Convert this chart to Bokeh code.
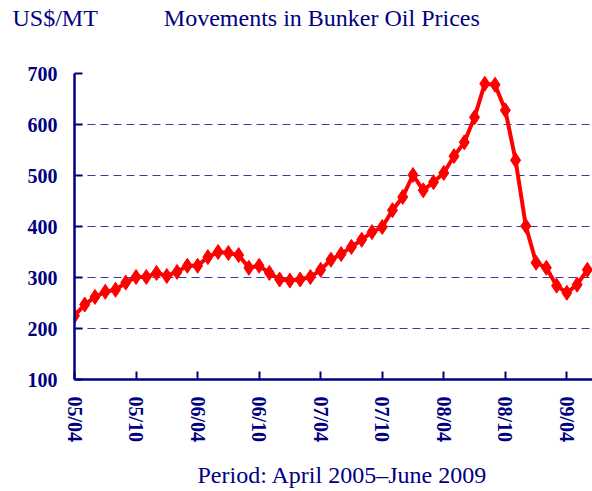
import math
from bokeh.plotting import figure
from bokeh.models import FixedTicker, Range1d, Title
from bokeh.embed import file_html
from bokeh.resources import INLINE

# Monthly bunker oil prices, April 2005 - June 2009 (US$/MT)
month_index = list(range(51))
prices = [225, 247, 262, 272, 276, 290, 301, 301, 309, 303,
          311, 323, 323, 340, 350, 348, 344, 319, 323, 309,
          296, 294, 296, 301, 315, 335, 346, 360, 374, 389,
          399, 432, 458, 501, 471, 487, 505, 538, 565, 614,
          680, 678, 628, 530, 401, 329, 319, 284, 270, 286, 315]
tick_positions = [0, 6, 12, 18, 24, 30, 36, 42, 48]
tick_labels = ["05/04", "05/10", "06/04", "06/10", "07/04",
               "07/10", "08/04", "08/10", "09/04"]
y_ticks = [100, 200, 300, 400, 500, 600, 700]
unit_text = "US$/MT"
title_text = "Movements in Bunker Oil Prices"
period_text = "Period: April 2005\u2013June 2009"

NAVY = "#000080"
FONT = "Liberation Serif"

p = figure(width=592, height=491, output_backend="svg", toolbar_location=None,
           x_range=Range1d(0, 50.5), y_range=Range1d(100, 700),
           min_border_left=74, min_border_right=0, min_border_top=73,
           min_border_bottom=111)
p.outline_line_color = None
p.background_fill_color = "white"
p.border_fill_color = "white"

# grid
p.xgrid.grid_line_color = None
p.ygrid.grid_line_color = "#3a3aa8"
p.ygrid.grid_line_dash = "8 5"
p.ygrid.grid_line_width = 1.2
p.ygrid.ticker = FixedTicker(ticks=[200, 300, 400, 500, 600, 700])

# axes
for ax in (p.xaxis[0], p.yaxis[0]):
    ax.axis_line_color = NAVY
    ax.axis_line_width = 2.5
    ax.major_tick_line_color = NAVY
    ax.major_tick_line_width = 2
    ax.major_tick_in = 8
    ax.major_tick_out = 0
    ax.minor_tick_line_color = None
    ax.major_label_text_color = NAVY
    ax.major_label_text_font = FONT
    ax.major_label_text_font_style = "bold"
    ax.major_label_text_font_size = "20px"

p.yaxis.ticker = FixedTicker(ticks=y_ticks)
p.yaxis.major_label_standoff = 17
p.xaxis.ticker = FixedTicker(ticks=tick_positions)
p.xaxis.major_label_overrides = {t: l for t, l in zip(tick_positions, tick_labels)}
p.xaxis.major_label_orientation = -math.pi / 2
p.xaxis.major_label_standoff = 17
p.xaxis.axis_label = "\u00a0" * 3 + period_text
p.xaxis.axis_label_standoff = 17
p.xaxis.axis_label_text_font = FONT
p.xaxis.axis_label_text_font_size = "24px"
p.xaxis.axis_label_text_font_style = "normal"
p.xaxis.axis_label_text_color = NAVY

# data
p.line(month_index, prices, line_color="#ff0000", line_width=4)
p.scatter(month_index, prices, marker="diamond", size=15,
          fill_color="#ff0000", line_color="#ff0000")

# spacer between frame and header, then header: unit and title on one line
p.add_layout(Title(text="\u00a0", text_font_size="1px", standoff=40), "above")
p.add_layout(Title(text=unit_text + "\u00a0" * 11 + title_text, align="left",
                   offset=-62, standoff=0, text_font=FONT,
                   text_font_size="24px", text_font_style="normal",
                   text_color=NAVY), "above")

open("out.html", "w").write(file_html(p, INLINE))
